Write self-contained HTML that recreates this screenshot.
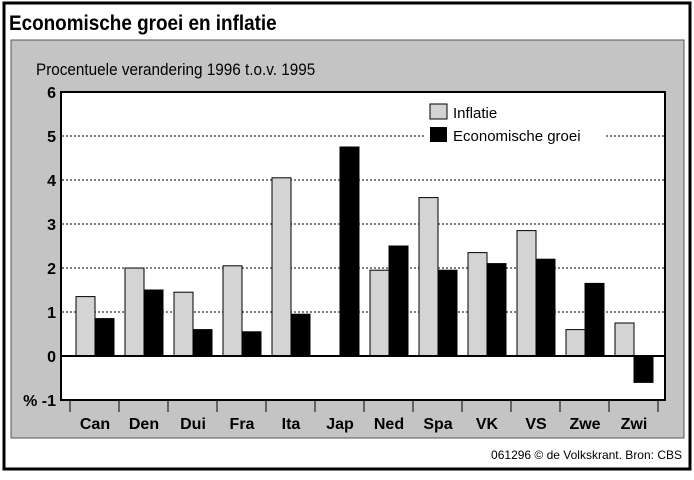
<!DOCTYPE html>
<html><head><meta charset="utf-8"><style>
body{margin:0;background:#fff;font-family:"Liberation Sans",sans-serif}
svg text{font-family:"Liberation Sans",sans-serif}
</style></head><body>
<svg width="694" height="475" viewBox="0 0 694 475">
<rect x="4" y="3" width="686" height="466" fill="#fff" stroke="#000" stroke-width="3"/>
<text x="10" y="30" font-size="21" font-weight="bold" transform="scale(0.9,1)">Economische groei en inflatie</text>
<rect x="11" y="40" width="673" height="398" fill="#c4c4c4" stroke="#555"/>
<text x="40" y="75" font-size="17" transform="scale(0.9,1)">Procentuele verandering 1996 t.o.v. 1995</text>
<rect x="61" y="92" width="604" height="308" fill="#fff" stroke="#000" stroke-width="2"/>
<g id="grid"></g><g id="bars"></g><g id="axis"></g>
<rect x="426" y="100" width="180" height="46" fill="#fff"/>
<rect x="430" y="104" width="17" height="15" fill="#d4d4d4" stroke="#000"/>
<text x="453" y="118" font-size="15">Inflatie</text>
<rect x="430" y="127" width="17" height="15" fill="#000"/>
<text x="453" y="141" font-size="15">Economische groei</text>
<text x="682" y="459" font-size="12" text-anchor="end">061296 © de Volkskrant. Bron: CBS</text>
</svg>
<script>
const categories=["Can","Den","Dui","Fra","Ita","Jap","Ned","Spa","VK","VS","Zwe","Zwi"];
const inflatie=[1.35,2.0,1.45,2.05,4.05,0,1.95,3.6,2.35,2.85,0.6,0.75];
const groei=[0.85,1.5,0.6,0.55,0.95,4.75,2.5,1.95,2.1,2.2,1.65,-0.6];
const yTicks=[6,5,4,3,2,1,0,-1];
const NS="http://www.w3.org/2000/svg";
const y=v=>356-v*44;
const band=i=>70+i*49;
function mk(t,a,p){const e=document.createElementNS(NS,t);for(const k in a)e.setAttribute(k,a[k]);document.getElementById(p).appendChild(e);return e;}
yTicks.forEach(t=>{
 if(t>-1&&t<6&&t!==0){const l=mk('line',{x1:62,x2:664,y1:y(t),y2:y(t),stroke:'#000','stroke-width':1,'stroke-dasharray':'2,2'},'grid');
 
 }
 const tx=mk('text',{x:56,y:y(t)+6,'font-size':16,'font-weight':'bold','text-anchor':'end'},'axis');
 tx.textContent=(t===-1?'% -1':t);
 
 
});
const z=mk('line',{x1:61,x2:665,y1:y(0),y2:y(0),stroke:'#000','stroke-width':2},'axis');


categories.forEach((c,i)=>{
 const x0=band(i);
 [[inflatie[i],'#d4d4d4',6,'inflatie'],[groei[i],'#000',25,'groei']].forEach(([v,f,o,n])=>{
  const yt=Math.min(y(v),y(0)),h=Math.abs(y(v)-y(0));
  const r=mk('rect',{x:x0+o,y:yt,width:19,height:h,fill:f,stroke:'#000','stroke-width':1},'bars');
  
  
 });
 const s=mk('line',{x1:x0,x2:x0,y1:401,y2:412,stroke:'#000'},'axis');
 
 
 const t=mk('text',{x:x0+25,y:429,'font-size':16,'font-weight':'bold','text-anchor':'middle'},'axis');
 t.textContent=c;
 
 
});
const s2=mk('line',{x1:band(12),x2:band(12),y1:401,y2:412,stroke:'#000'},'axis');


</script>
</body></html>
